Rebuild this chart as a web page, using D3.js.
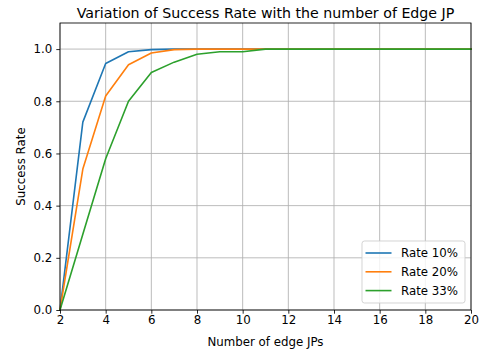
<!DOCTYPE html>
<html>
<head>
<meta charset="utf-8">
<script src="https://cdn.jsdelivr.net/npm/d3@7"></script>
<style>
  body { margin: 0; background: #fff; }
  text { font-family: "DejaVu Sans", sans-serif; }
</style>
</head>
<body>
<svg></svg>
<script>
// chart data
const edgeJPs = d3.range(2, 21);
const rate10 = [0, 0.72, 0.945, 0.99, 0.998, 1, 1, 1, 1, 1, 1, 1, 1, 1, 1, 1, 1, 1, 1];
const rate20 = [0, 0.54, 0.82, 0.94, 0.985, 0.998, 1, 1, 1, 1, 1, 1, 1, 1, 1, 1, 1, 1, 1];
const rate33 = [0, 0.29, 0.58, 0.80, 0.91, 0.95, 0.98, 0.99, 0.99, 1, 1, 1, 1, 1, 1, 1, 1, 1, 1];
const seriesNames = ["Rate 10%", "Rate 20%", "Rate 33%"];
const seriesColors = ["#1f77b4", "#ff7f0e", "#2ca02c"];
const xTicks = [2, 4, 6, 8, 10, 12, 14, 16, 18, 20];
const yTicks = [0, 0.2, 0.4, 0.6, 0.8, 1.0];

const width = 484, height = 354;
const margin = { left: 60, right: 13, top: 23, bottom: 44 };
const fs = 11.8;
const svg = d3.select("svg").attr("width", width).attr("height", height);

const x = d3.scaleLinear().domain([2, 20]).range([margin.left, width - margin.right]);
const y = d3.scaleLinear().domain([0, 1.1]).range([height - margin.bottom, margin.top]);

// grid
svg.append("g").selectAll("line").data(xTicks).join("line")
  .attr("x1", d => x(d)).attr("x2", d => x(d))
  .attr("y1", y(0)).attr("y2", y(1.1))
  .attr("stroke", "#b0b0b0").attr("stroke-width", 0.85);
svg.append("g").selectAll("line").data(yTicks).join("line")
  .attr("y1", d => y(d)).attr("y2", d => y(d))
  .attr("x1", x(2)).attr("x2", x(20))
  .attr("stroke", "#b0b0b0").attr("stroke-width", 0.85);

// lines
const allSeries = [rate10, rate20, rate33];
const line = d3.line().x((d, i) => x(edgeJPs[i])).y(d => y(d));
svg.append("g").selectAll("path").data(allSeries).join("path")
  .attr("d", line)
  .attr("fill", "none")
  .attr("stroke", (d, i) => seriesColors[i])
  .attr("stroke-width", 1.6)
  .attr("stroke-linejoin", "round")
  .attr("stroke-linecap", "square");

// axes
const xAxis = svg.append("g")
  .attr("transform", `translate(0,${y(0)})`)
  .call(d3.axisBottom(x).tickValues(xTicks).tickSize(3.7).tickPadding(1.8).tickFormat(d3.format("d")));
const yAxis = svg.append("g")
  .attr("transform", `translate(${x(2)},0)`)
  .call(d3.axisLeft(y).tickValues(yTicks).tickSize(3.7).tickPadding(4).tickFormat(d3.format(".1f")));
[xAxis, yAxis].forEach(a => {
  a.select(".domain").remove();
  a.selectAll("text").attr("font-size", fs).attr("fill", "#000").style("font-family", "DejaVu Sans, sans-serif");
  a.selectAll("line").attr("stroke", "#000").attr("stroke-width", 0.85);
});

// frame
svg.append("rect")
  .attr("x", x(2)).attr("y", y(1.1))
  .attr("width", x(20) - x(2)).attr("height", y(0) - y(1.1))
  .attr("fill", "none").attr("stroke", "#000").attr("stroke-width", 0.85);

// titles
svg.append("text").attr("x", (x(2) + x(20)) / 2).attr("y", 17.5)
  .attr("text-anchor", "middle").attr("font-size", 14.2)
  .text("Variation of Success Rate with the number of Edge JP");
svg.append("text").attr("x", (x(2) + x(20)) / 2).attr("y", 346)
  .attr("text-anchor", "middle").attr("font-size", fs)
  .text("Number of edge JPs");
svg.append("text")
  .attr("transform", `translate(25,${(y(0) + y(1.1)) / 2}) rotate(-90)`)
  .attr("text-anchor", "middle").attr("font-size", fs)
  .text("Success Rate");

// legend
const lg = svg.append("g").attr("transform", "translate(362,241)");
lg.append("rect").attr("width", 103).attr("height", 62).attr("rx", 2.5)
  .attr("fill", "#fff").attr("fill-opacity", 0.8)
  .attr("stroke", "#cccccc").attr("stroke-width", 0.85);
seriesNames.forEach((name, i) => {
  const yy = 12 + i * 18.8;
  lg.append("line").attr("x1", 3.5).attr("x2", 29.5).attr("y1", yy).attr("y2", yy)
    .attr("stroke", seriesColors[i]).attr("stroke-width", 1.6);
  lg.append("text").attr("x", 39).attr("y", yy + 4.2).attr("font-size", fs).text(name);
});
</script>
</body>
</html>
